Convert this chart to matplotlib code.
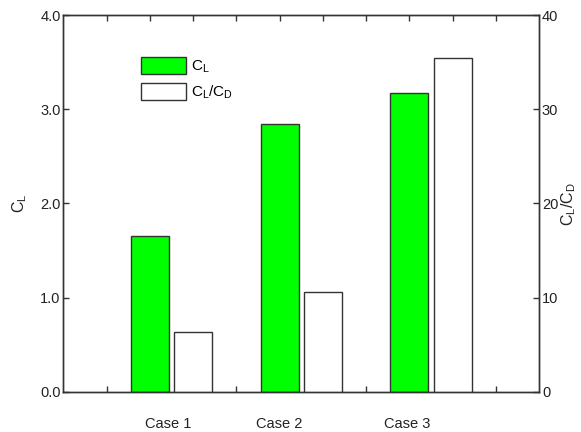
import matplotlib
matplotlib.use("Agg")
import matplotlib.pyplot as plt

plt.rcParams['font.family'] = ['Liberation Sans', 'DejaVu Sans']
plt.rcParams['mathtext.fontset'] = 'custom'
plt.rcParams['mathtext.rm'] = 'Liberation Sans'
plt.rcParams['mathtext.it'] = 'Liberation Sans'
plt.rcParams['mathtext.bf'] = 'Liberation Sans'

cases = ["Case 1", "Case 2", "Case 3"]
cl_values = [1.65, 2.85, 3.17]
clcd_values = [6.3, 10.6, 35.5]
cl_pos = [2, 5, 8]
clcd_pos = [3, 6, 9]
label_pos = [2.42, 5.0, 7.95]
x_ticks = list(range(1, 11))
left_ticks = [0.0, 1.0, 2.0, 3.0, 4.0]
right_ticks = [0, 10, 20, 30, 40]

edge = '#333333'
fs = 10.5

fig = plt.figure(figsize=(5.81, 4.32), dpi=100)
ax = fig.add_axes([0.109, 0.0933, 0.819, 0.8713])
ax2 = ax.twinx()

b1 = ax.bar(cl_pos, cl_values, width=0.88, color='#00ff00', edgecolor=edge, linewidth=1.0, zorder=2)
b2 = ax2.bar(clcd_pos, clcd_values, width=0.88, color='white', edgecolor=edge, linewidth=1.0, zorder=2)

ax.set_xlim(0, 11)
ax.set_ylim(0, 4)
ax2.set_ylim(0, 40)
ax.set_xticks(x_ticks)
ax.set_xticklabels([])
ax.set_yticks(left_ticks)
ax.set_yticklabels([f"{v:.1f}" for v in left_ticks])
ax2.set_yticks(right_ticks)
ax2.set_yticklabels([str(v) for v in right_ticks])

ax.tick_params(axis='x', direction='in', top=True, bottom=True, length=4, width=1, color=edge)
ax.tick_params(axis='y', direction='in', length=4, width=1, color=edge, labelsize=fs, labelcolor='#222222', pad=2)
ax2.tick_params(axis='y', direction='in', length=4, width=1, color=edge, labelsize=fs, labelcolor='#222222', pad=2)

for a in (ax, ax2):
    for s in a.spines.values():
        s.set_color(edge)
        s.set_linewidth(1.0)

for x, t in zip(label_pos, cases):
    ax.text(x, -0.34, t, ha='center', va='center', fontsize=fs, color='#222222')

ax.set_ylabel(r'$\mathrm{C_L}$', fontsize=fs + 1, color='#222222', labelpad=8)
ax2.set_ylabel(r'$\mathrm{C_L/C_D}$', fontsize=fs + 1, color='#222222', labelpad=1)

leg = ax.legend([b1, b2], [r'$\mathrm{C_L}$', r'$\mathrm{C_L/C_D}$'], loc='upper left',
                bbox_to_anchor=(0.163, 0.889), frameon=False, fontsize=fs + 0.5,
                handlelength=2.95, handleheight=1.35, handletextpad=0.3, labelspacing=0.5,
                borderaxespad=0, borderpad=0)

fig.savefig('out.png', dpi=100)
